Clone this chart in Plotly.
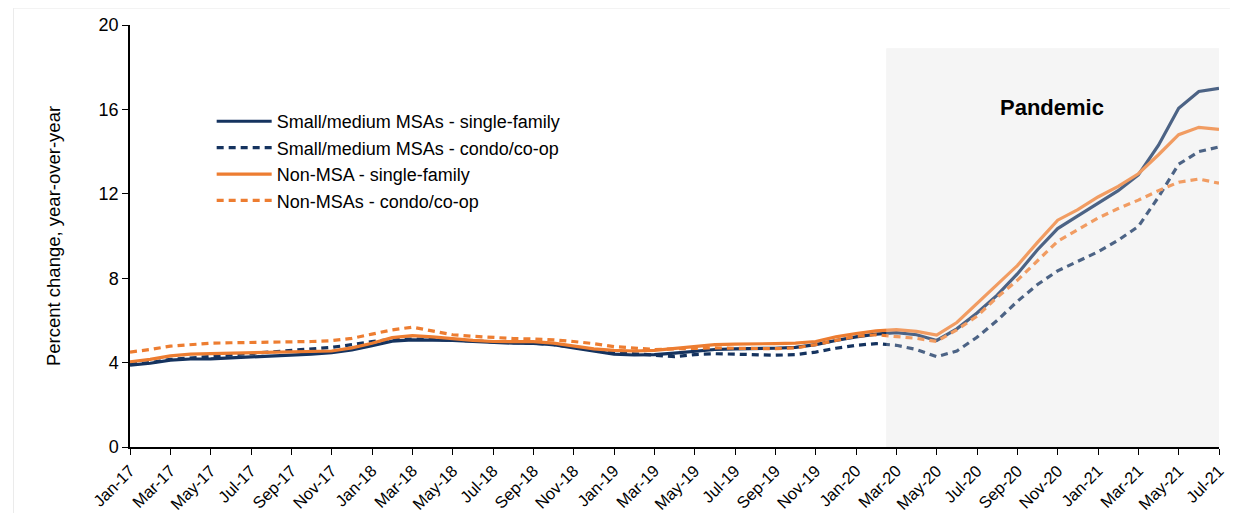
import plotly.graph_objects as go

months = ["Jan", "Feb", "Mar", "Apr", "May", "Jun", "Jul", "Aug", "Sep", "Oct", "Nov", "Dec"]
categories = [f"{m}-{y}" for y in ["17", "18", "19", "20", "21"] for m in months][:55]

sm_single = [3.88, 3.97, 4.12, 4.17, 4.18, 4.22, 4.27, 4.32, 4.36, 4.40, 4.47, 4.60,
             4.80, 5.02, 5.08, 5.08, 5.05, 5.00, 4.95, 4.92, 4.91, 4.85, 4.70, 4.55,
             4.40, 4.36, 4.38, 4.45, 4.55, 4.62, 4.65, 4.65, 4.68, 4.72, 4.85, 5.05,
             5.22, 5.35, 5.42, 5.32, 5.05, 5.60, 6.35, 7.20, 8.20, 9.35, 10.35, 10.95,
             11.55, 12.15, 12.90, 14.30, 16.05, 16.85, 17.00]
sm_condo = [3.92, 4.00, 4.15, 4.22, 4.28, 4.35, 4.42, 4.50, 4.58, 4.65, 4.72, 4.85,
            5.00, 5.10, 5.12, 5.10, 5.08, 5.03, 4.98, 4.95, 4.92, 4.85, 4.72, 4.58,
            4.48, 4.42, 4.35, 4.28, 4.38, 4.42, 4.40, 4.36, 4.35, 4.38, 4.50, 4.68,
            4.82, 4.90, 4.82, 4.62, 4.28, 4.55, 5.20, 6.00, 6.90, 7.70, 8.35, 8.80,
            9.25, 9.80, 10.45, 11.85, 13.40, 14.00, 14.22]
nm_single = [4.04, 4.15, 4.32, 4.40, 4.43, 4.45, 4.46, 4.46, 4.48, 4.50, 4.55, 4.70,
             4.92, 5.18, 5.28, 5.22, 5.12, 5.05, 5.00, 4.99, 4.99, 4.92, 4.80, 4.65,
             4.58, 4.55, 4.58, 4.68, 4.78, 4.85, 4.88, 4.88, 4.90, 4.92, 5.00, 5.22,
             5.38, 5.50, 5.56, 5.48, 5.30, 5.90, 6.80, 7.70, 8.60, 9.70, 10.75, 11.25,
             11.85, 12.35, 12.95, 13.85, 14.80, 15.15, 15.05]
nm_condo = [4.50, 4.62, 4.78, 4.86, 4.92, 4.94, 4.95, 4.96, 4.98, 5.00, 5.04, 5.15,
            5.35, 5.55, 5.68, 5.50, 5.32, 5.25, 5.18, 5.14, 5.12, 5.08, 5.00, 4.90,
            4.76, 4.68, 4.62, 4.65, 4.68, 4.70, 4.68, 4.66, 4.66, 4.70, 4.85, 5.05,
            5.25, 5.32, 5.25, 5.15, 5.00, 5.55, 6.20, 7.10, 7.90, 8.80, 9.75, 10.30,
            10.85, 11.30, 11.70, 12.15, 12.55, 12.70, 12.50]

tick_labels = categories[::2]
y_ticks = [0, 4, 8, 12, 16, 20]

NAVY = "#15335f"
ORANGE = "#ed7d31"

series = [
    ("Small/medium MSAs - single-family", sm_single, NAVY, "solid"),
    ("Small/medium MSAs - condo/co-op", sm_condo, NAVY, "7px,5px"),
    ("Non-MSA - single-family", nm_single, ORANGE, "solid"),
    ("Non-MSAs - condo/co-op", nm_condo, ORANGE, "7px,5px"),
]

fig = go.Figure()
for name, vals, color, dash in series:
    fig.add_trace(go.Scatter(
        x=categories, y=vals, name=name, mode="lines",
        line=dict(color=color, width=3.2, dash=dash),
    ))

# pandemic shading
fig.add_shape(type="rect", xref="x", yref="y", x0=37.5, x1=54, y0=0, y1=18.9,
              fillcolor="#f2f2f2", line_width=0, layer="below")
fig.add_shape(type="rect", xref="x", yref="y", x0=37.5, x1=54, y0=0.05, y1=18.9,
              fillcolor="rgba(255,255,255,0.24)", line_width=0, layer="above")

fig.add_annotation(x=45.7, y=16.1, xref="x", yref="y", text="<b>Pandemic</b>",
                   showarrow=False, font=dict(size=22, color="black"))

# faint outer border
fig.add_shape(type="line", xref="paper", yref="paper", x0=-0.107, x1=-0.107, y0=-0.3, y1=1.04,
              line=dict(color="#ebebeb", width=1))
fig.add_shape(type="line", xref="paper", yref="paper", x0=-0.107, x1=1.01, y0=1.04, y1=1.04,
              line=dict(color="#ebebeb", width=1))

fig.update_layout(
    width=1222, height=505,
    margin=dict(l=122, r=11, t=17, b=66),
    plot_bgcolor="white", paper_bgcolor="white",
    font=dict(family="Liberation Sans, Arial, sans-serif", color="black"),
    legend=dict(x=0.075, y=0.815, xanchor="left", yanchor="top",
                bgcolor="rgba(0,0,0,0)", font=dict(size=18), tracegroupgap=0,
                itemwidth=55),
    showlegend=True,
)
fig.update_xaxes(
    type="category", range=[0, 54], automargin=False,
    tickmode="array", tickvals=tick_labels, ticktext=tick_labels,
    tickangle=-45, tickfont=dict(size=16.5),
    ticks="outside", ticklen=6, tickcolor="black",
    showline=True, linecolor="black", linewidth=1.5,
    showgrid=False, zeroline=False,
)
fig.update_yaxes(
    range=[0, 20], tickvals=y_ticks, tickfont=dict(size=18), automargin=False,
    ticks="outside", ticklen=6, tickcolor="black",
    showline=True, linecolor="black", linewidth=1.5,
    showgrid=False, zeroline=False,
    title=dict(text="Percent change, year-over-year", font=dict(size=18.5), standoff=33),
)

fig.write_html("out.html")
